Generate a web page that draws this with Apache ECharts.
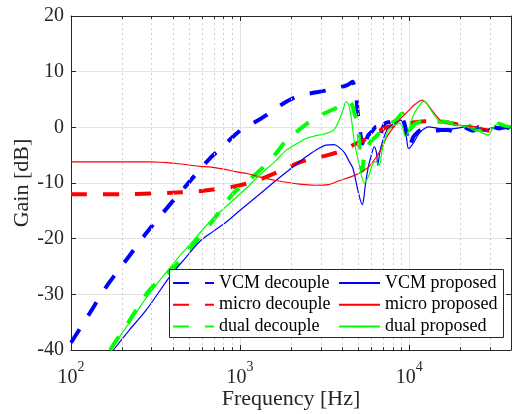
<!DOCTYPE html>
<html><head><meta charset="utf-8">
<script src="https://cdn.jsdelivr.net/npm/echarts@6/dist/echarts.min.js"></script>
<style>html,body{margin:0;padding:0;background:#fff}#c{width:512px;height:414px}</style>
</head><body><div id="c"></div>
<script>
// ---- data ----
const xMin = 100, xMax = 40000;
const yMin = -40, yMax = 20, yStep = 10;
const minorFreqs = [200,300,400,500,600,700,800,900,2000,3000,4000,5000,6000,7000,8000,9000,20000,30000];

const seriesNames = ['VCM decouple','micro decouple','dual decouple','VCM proposed','micro proposed','dual proposed'];

const vcmDecF = [100,129,162,220,279,367,452,552,676,800,906,1040,1220,1430,1700,2050,2500,3220,3800,4300,4530,4630,4720,4850,4955,5070,5190,5300,5420,5550,5700,6000,6300,6550,6700,6900,7200,7700,8100,8800,9300,9700,9950,10200,10600,11300,12000,12800,14000,15500,17000,18500,19500,20500,22000,24000,25500,27000,29000,31000,34000,37000,40000];
const vcmDecG = [-38.7,-33.4,-28.6,-23.2,-19.0,-14.6,-11.4,-8.3,-5.3,-3.3,-1.7,-0.2,0.9,2.2,3.8,5.2,6.0,6.6,7.1,7.6,8.0,8.2,7.6,6.1,2.8,0.7,-2.0,-2.9,-1.1,-2.5,-1.5,-0.8,0.0,0.1,-1.7,-0.5,0.7,1.0,1.3,1.9,1.0,-1.5,-3.5,-3.0,-1.7,-0.8,-0.3,-0.2,-0.6,-0.5,-0.5,-0.8,-0.3,0.3,-0.2,-0.6,0.0,0.2,-0.3,0.1,-0.2,0.0,-0.2];

const micDecF = [100,200,300,420,560,724,870,1000,1200,1430,1800,2245,2700,3300,4000,4800,5400,6200,7100,8000,8700,10250,12500,15000,17500,20000,25000,31000];
const micDecG = [-12.0,-12.0,-11.9,-11.7,-11.5,-11.1,-10.8,-10.4,-9.8,-8.9,-7.6,-6.3,-5.6,-5.0,-4.2,-3.0,-2.3,-1.2,-0.2,0.3,0.5,0.8,1.1,1.1,0.8,0.4,-0.2,-0.7];

const dualDecF = [170,220,292,411,530,692,908,1100,1303,1430,1650,1876,2200,2570,3100,3600,3860,4115,4400,4600,4750,4950,5070,5180,5280,5400,5500,5700,5900,6330,6800,7320,7800,8370,9100,9500,10000,10400,10900,12000,13600,15700,17500,19500,21500,23000,25000,27000,29000,31000,33600,37000,40000];
const dualDecG = [-40,-34.9,-29.2,-25.0,-21.0,-16.7,-11.9,-9.8,-7.8,-6.6,-4.5,-2.3,-0.6,1.0,2.4,3.3,3.7,4.3,4.6,4.0,2.5,0.8,-3.0,-6.5,-7.8,-5.5,-4.4,-3.5,-2.6,-1.7,-0.7,0.1,0.7,1.3,2.5,1.0,-0.5,0.0,0.7,1.0,1.0,1.0,0.8,0.4,0.7,0.2,-0.5,-0.2,0.0,0.4,0.7,0.2,0.0];

const vcmProF = [178,220,279,384,480,577,700,829,1000,1270,1636,2000,2455,2800,3220,3600,3850,4150,4430,4640,4850,5050,5280,5400,5500,5700,5900,6217,6400,6520,6700,6950,7450,7960,8400,8900,9300,9600,9900,10200,10700,11300,11950,13000,14900,17000,18900,20500,22000,24000,26000,28000,31000,34000,37000,40000];
const vcmProG = [-40,-36.5,-32.8,-26.8,-23.3,-20.5,-18.6,-17.0,-14.9,-12.3,-9.5,-7.4,-5.3,-4.1,-3.2,-3.1,-3.6,-4.6,-6.2,-7.3,-9.8,-12.2,-13.9,-12.5,-10.4,-7.5,-5.6,-3.5,-4.5,-6.8,-4.5,-2.6,-0.2,0.4,0.9,1.3,0.3,-1.5,-3.8,-3.5,-2.6,-1.3,-0.5,0.1,-0.2,-0.3,-0.2,0.0,0.2,-0.3,-0.1,-0.5,-0.1,0.1,-0.2,-0.1];

const micProF = [100,200,300,420,577,660,800,950,1100,1300,1600,2245,2800,3300,3850,4430,4850,5300,5800,6300,6800,7320,7800,8370,9200,10000,10700,11365,11900,12700,13600,14500,15700,17500,19555,22000,24800,27000,29400];
const micProG = [-6.2,-6.2,-6.2,-6.5,-7.0,-7.1,-7.5,-8.0,-8.3,-8.9,-9.5,-10.2,-10.4,-10.3,-9.6,-9.0,-8.5,-7.9,-7.0,-5.6,-4.0,-1.9,-0.6,0.6,2.0,3.1,4.0,4.6,4.9,4.3,3.1,2.0,1.0,0.6,0.4,0.2,0.1,-0.2,-0.5];

const dualProF = [171,220,292,420,530,660,908,1100,1300,1600,1876,2200,2450,2800,3220,3600,3850,4050,4230,4400,4550,4740,4900,5070,5250,5425,5600,5808,6000,6217,6400,6650,6950,7450,7900,8300,8700,9100,9500,9800,10200,10700,11365,11900,12300,13000,14000,14900,16000,17000,19000,21000,23000,24800,27000,29400,31000,33600,36000,40000];
const dualProG = [-40,-35.2,-29.8,-23.8,-20.3,-17.0,-13.1,-10.8,-8.6,-6.2,-4.1,-2.8,-2.0,-1.5,-1.1,-0.4,1.3,3.0,4.6,4.0,1.5,-2.6,-4.8,-6.8,-9.0,-10.0,-9.5,-8.4,-7.0,-6.2,-6.2,-6.8,-3.8,-0.8,0.2,0.4,0.8,0.2,-1.6,-1.0,0.8,2.5,3.7,4.5,4.7,3.8,2.3,1.3,0.9,0.7,0.4,0.2,-0.1,-0.3,-1.0,-1.4,-0.3,0.7,0.3,-0.2];

// ---- styling ----
const FONT = '"Liberation Serif","Times New Roman",serif';
const AX = '#262626';
const pair = (f, g) => f.map((v, i) => [v, g[i]]);
const dash = [16, 16];

function lineSeries(name, f, g, color, dashed) {
  return {
    name, type: 'line', data: pair(f, g), symbol: 'none', showSymbol: false,
    smooth: 0.3,
    xAxisIndex: 0, yAxisIndex: 0, z: dashed ? 3 : 4, clip: true,
    lineStyle: { color, width: dashed ? 4 : 1.2, type: dashed ? dash : 'solid', cap: 'butt' },
    itemStyle: { color }
  };
}

const minorGrid = minorFreqs.map(f => ({ xAxis: f }));
const minorTickLines = [];
minorFreqs.forEach(f => {
  minorTickLines.push([{ coord: [f, yMin] }, { coord: [f, yMin + 0.5] }]);
  minorTickLines.push([{ coord: [f, yMax - 0.5] }, { coord: [f, yMax] }]);
});

const chart = echarts.init(document.getElementById('c'), null, { renderer: 'canvas' });
const xLabelFmt = v => {
  const e = Math.round(Math.log10(v));
  if (Math.abs(v - Math.pow(10, e)) > 1e-6 * v) return '';
  return '{b|10}{s|' + e + '}';
};
const legendCommon = {
  orient: 'vertical', top: 273, padding: 0,
  itemWidth: 41, itemHeight: 14, itemGap: 1.7, zlevel: 1, z: 60,
  itemStyle: { opacity: 0, borderWidth: 0 },
  textStyle: { fontFamily: FONT, fontSize: 18, lineHeight: 20, color: '#000' }
};
chart.setOption({
  animation: false,
  backgroundColor: '#fff',
  grid: { left: 71, top: 16, right: 1, bottom: 64, containLabel: false, outerBoundsMode: 'none' },
  xAxis: [{
    type: 'log', logBase: 10, min: xMin, max: xMax, position: 'bottom',
    name: 'Frequency [Hz]', nameLocation: 'middle', nameGap: 38, nameMoveOverlap: false,
    nameTextStyle: { fontFamily: FONT, fontSize: 22, color: AX },
    axisLine: { show: true, onZero: false, lineStyle: { color: AX, width: 1 } },
    axisTick: { show: true, inside: true, length: 5, lineStyle: { color: AX } },
    axisLabel: { margin: 10, formatter: xLabelFmt, showMaxLabel: false,
      rich: {
        b: { fontFamily: FONT, fontSize: 20, color: AX, lineHeight: 28, verticalAlign: 'bottom' },
        s: { fontFamily: FONT, fontSize: 14, color: AX, lineHeight: 12, verticalAlign: 'top' }
      } },
    splitLine: { show: true, lineStyle: { color: '#e2e2e2', width: 1 } }
  }, {
    type: 'log', logBase: 10, min: xMin, max: xMax, position: 'top',
    axisLine: { show: true, onZero: false, lineStyle: { color: AX, width: 1 } },
    axisTick: { show: true, inside: true, length: 5, lineStyle: { color: AX } },
    axisLabel: { show: false }, splitLine: { show: false }
  }],
  yAxis: [{
    type: 'value', min: yMin, max: yMax, interval: yStep, position: 'left',
    name: 'Gain [dB]', nameLocation: 'middle', nameGap: 38, nameMoveOverlap: false,
    nameTextStyle: { fontFamily: FONT, fontSize: 22, color: AX },
    axisLine: { show: true, onZero: false, lineStyle: { color: AX, width: 1 } },
    axisTick: { show: true, inside: true, length: 5, lineStyle: { color: AX } },
    axisLabel: { margin: 7, fontFamily: FONT, fontSize: 20, color: AX },
    splitLine: { show: true, lineStyle: { color: '#e2e2e2', width: 1 } }
  }, {
    type: 'value', min: yMin, max: yMax, interval: yStep, position: 'right',
    axisLine: { show: true, onZero: false, lineStyle: { color: AX, width: 1 } },
    axisTick: { show: true, inside: true, length: 5, lineStyle: { color: AX } },
    axisLabel: { show: false }, splitLine: { show: false }
  }],
  legend: [
    Object.assign({ data: seriesNames.slice(0, 3), left: 172 }, legendCommon),
    Object.assign({ data: seriesNames.slice(3), left: 338 }, legendCommon)
  ],
  graphic: [{
    type: 'rect', zlevel: 1, z: 50, silent: true,
    shape: { x: 169.5, y: 269.5, width: 334, height: 68 },
    style: { fill: '#fff', stroke: AX, lineWidth: 1 }
  }],
  series: [
    {
      name: 'grid-minor', type: 'line', data: [[xMin, -1000]], symbol: 'none', z: 1, silent: true,
      lineStyle: { opacity: 0 },
      markLine: {
        silent: true, symbol: 'none', animation: false, label: { show: false },
        lineStyle: { color: '#cdcdcd', width: 1, type: [2, 3] },
        data: minorGrid
      }
    },
    {
      name: 'tick-minor', type: 'line', data: [[xMin, -1000]], symbol: 'none', z: 5, silent: true,
      lineStyle: { opacity: 0 },
      markLine: {
        silent: true, symbol: 'none', animation: false, label: { show: false },
        lineStyle: { color: AX, width: 1, type: 'solid' },
        data: minorTickLines
      }
    },
    lineSeries(seriesNames[0], vcmDecF, vcmDecG, '#0000ff', true),
    lineSeries(seriesNames[1], micDecF, micDecG, '#ff0000', true),
    lineSeries(seriesNames[2], dualDecF, dualDecG, '#00ff00', true),
    lineSeries(seriesNames[3], vcmProF, vcmProG, '#0000ff', false),
    lineSeries(seriesNames[4], micProF, micProG, '#ff0000', false),
    lineSeries(seriesNames[5], dualProF, dualProG, '#00ff00', false)
  ]
});
</script></body></html>
